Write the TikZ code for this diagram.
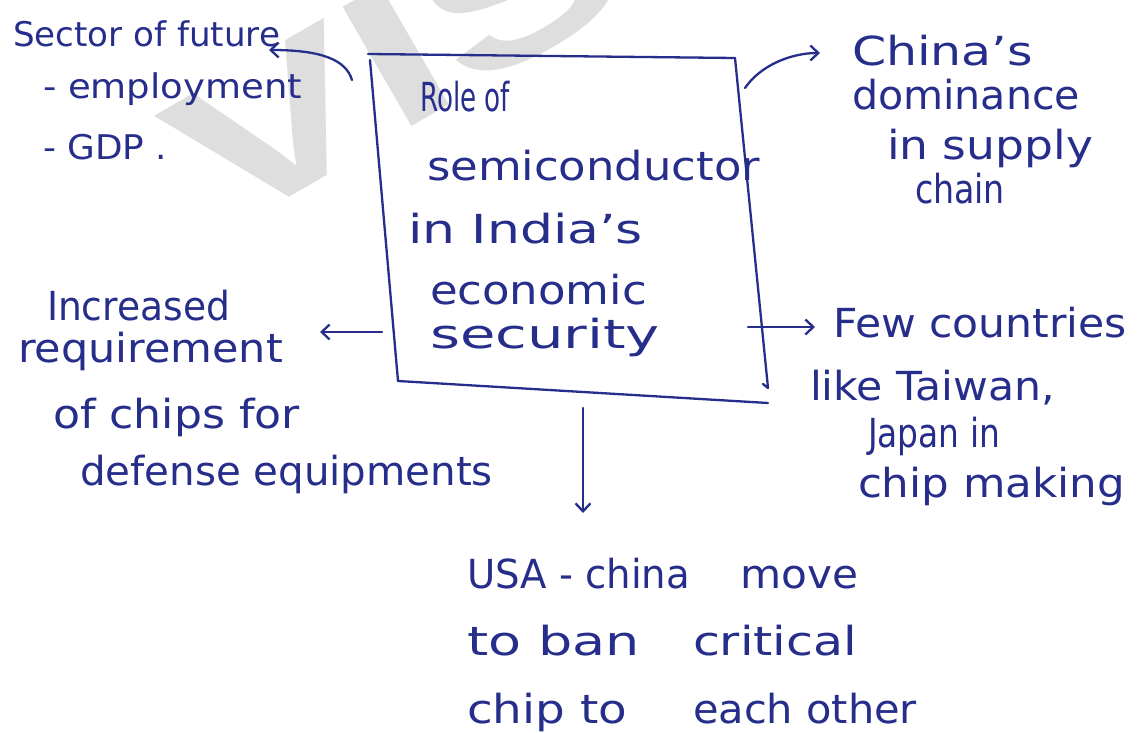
\documentclass[tikz,border=0pt]{standalone}
\usepackage{fontspec}
\setmainfont{DejaVu Sans}
\newfontfamily\wmfont{Liberation Sans}
\usetikzlibrary{arrows.meta}
\definecolor{ink}{RGB}{38,45,138}
\definecolor{wmgray}{RGB}{222,222,222}
\newcommand{\hw}[2]{\resizebox{#1pt}{\height}{#2}}
\tikzset{
  txt/.style={inner sep=0pt, outer sep=0pt, anchor=base west, text=ink, font=\fontsize{40}{48}\selectfont},
  small/.style={font=\fontsize{34}{40}\selectfont},
  pen/.style={draw=ink, line width=2.3pt, line cap=round, line join=round},
  arr/.style={pen, -{Straight Barb[length=8pt,width=15pt,line width=2.3pt]}},
  wm/.style={inner sep=0pt, anchor=base west, text=wmgray, font=\wmfont\bfseries\fontsize{200}{210}\selectfont}
}
\begin{document}
\begin{tikzpicture}[x=1pt,y=1pt]
\useasboundingbox (0,0) rectangle (1138,-733);
\clip (0,0) rectangle (1138,-733);
\fill[white] (0,0) rectangle (1138,-733);
% watermark
\node[wm, rotate=30] (wmark) at (221,-237) {\hw{1017}{VISION}};
% box corners
\coordinate (btl) at (368,-54);
\coordinate (btr) at (735,-58);
\coordinate (blt) at (370,-60);
\coordinate (bbr) at (768,-388);
\coordinate (bbl) at (398,-381);
\coordinate (bbe) at (768,-403);
\draw[pen] (btl) -- (btr);
\draw[pen] (blt) -- (bbl);
\draw[pen] (btr) -- (bbr) -- ++(-5,4);
\draw[pen] (bbl) -- (bbe);
% top-left block
\node[txt, small] (tl1) at (13,-47) {\hw{267}{Sector of future}};
\node[txt, small] (tl2) at (43,-99) {\hw{259}{- employment}};
\node[txt, small] (tl3) at (43,-160) {\hw{124}{- GDP .}};
% box text
\node[txt] (b1) at (420,-112) {\hw{90}{Role of}};
\node[txt] (b2) at (427,-180) {\hw{333}{semiconductor}};
\node[txt] (b3) at (408,-243) {\hw{235}{in India's}};
\node[txt] (b4) at (430,-304) {\hw{217}{economic}};
\node[txt] (b5) at (430,-348) {\hw{230}{security}};
% top-right block
\node[txt] (r1) at (852,-66) {\hw{181}{China's}};
\node[txt] (r2) at (852,-110) {\hw{228}{dominance}};
\node[txt] (r3) at (887,-160) {\hw{206}{in supply}};
\node[txt] (r4) at (915,-203) {\hw{90}{chain}};
% left block
\node[txt] (l1) at (47,-320) {\hw{183}{Increased}};
\node[txt] (l2) at (18,-362) {\hw{265}{requirement}};
\node[txt] (l3) at (53,-428) {\hw{247}{of chips for}};
\node[txt] (l4) at (80,-485) {\hw{413}{defense equipments}};
% right block
\node[txt] (g1) at (833,-337) {\hw{294}{Few countries}};
\node[txt] (g2) at (810,-400) {\hw{245}{like Taiwan,}};
\node[txt] (g3) at (868,-447) {\hw{132}{Japan in}};
\node[txt] (g4) at (858,-497) {\hw{267}{chip making}};
% bottom block
\node[txt] (u1) at (467,-588) {\hw{223}{USA - china}};
\node[txt] (u1b) at (740,-588) {\hw{118}{move}};
\node[txt] (u2) at (467,-655) {\hw{173}{to ban}};
\node[txt] (u2b) at (693,-655) {\hw{164}{critical}};
\node[txt] (u3) at (467,-723) {\hw{160}{chip to}};
\node[txt] (u3b) at (693,-723) {\hw{224}{each other}};
% connector end points
\coordinate (sS) at (352,-80);
\coordinate (sE) at (269,-50);
\coordinate (cS) at (745,-88);
\coordinate (cE) at (820,-53);
\coordinate (lS) at (382,-332);
\coordinate (lE) at (320,-332);
\coordinate (rS) at (748,-327);
\coordinate (rE) at (815,-327);
\coordinate (dS) at (583,-408);
\coordinate (dE) at (583,-513);
\draw[arr] (sS) .. controls (346,-60) and (322,-50) .. (sE);
\draw[arr] (cS) .. controls (760,-66) and (790,-53) .. (cE);
\draw[arr] (lS) -- (lE);
\draw[arr] (rS) -- (rE);
\draw[arr] (dS) -- (dE);
\end{tikzpicture}
\end{document}
